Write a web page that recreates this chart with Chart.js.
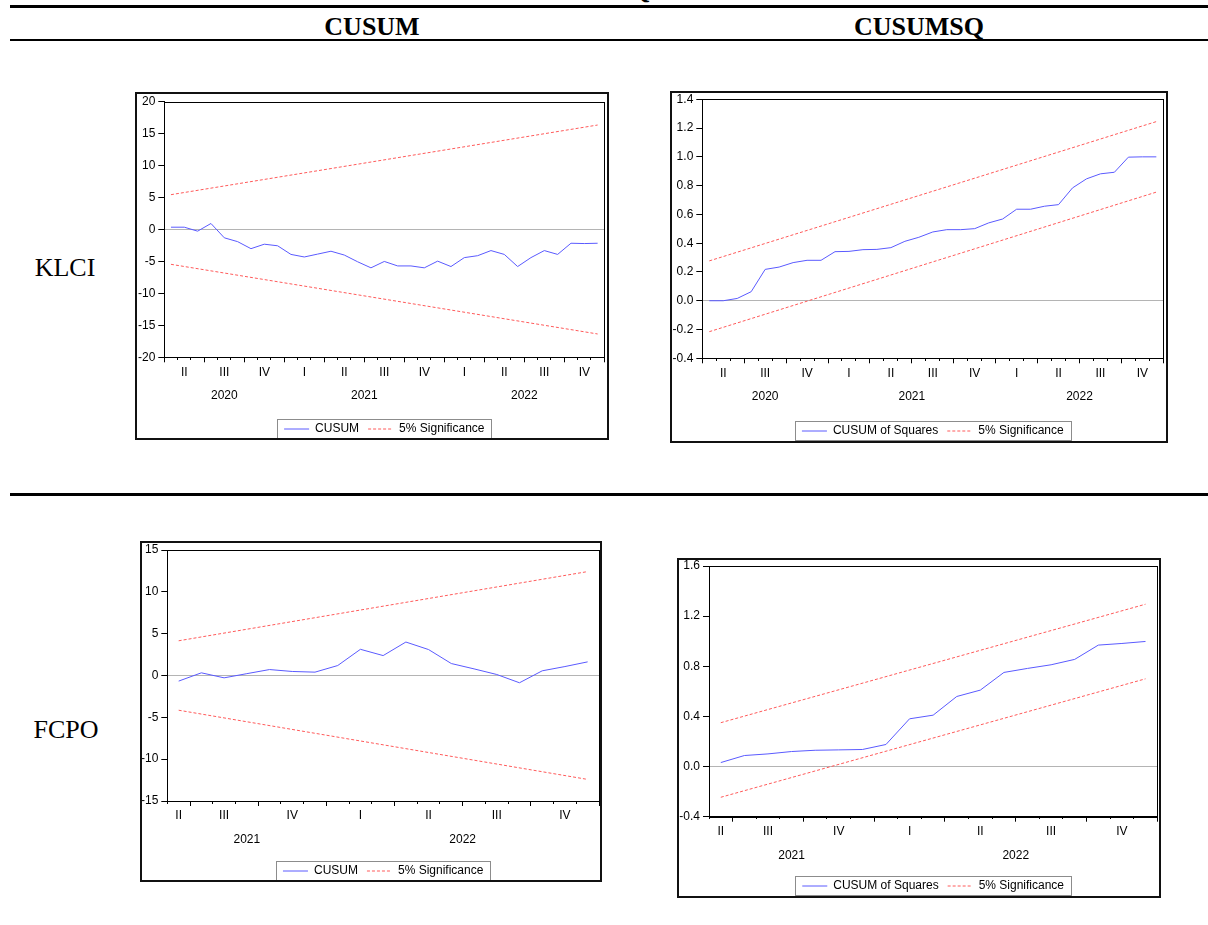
<!DOCTYPE html>
<html>
<head>
<meta charset="utf-8">
<script src="https://cdn.jsdelivr.net/npm/chart.js@4.4.1/dist/chart.umd.min.js"></script>
<style>
  body { margin: 0; background: #fff; }
  #page { position: relative; width: 1208px; height: 925px; overflow: hidden; background: #fff; }
  .rule { position: absolute; left: 10px; right: 0; background: #000; }
  .head { position: absolute; font-family: 'Liberation Serif', 'Times New Roman', serif; font-weight: bold;
          font-size: 26px; transform: translate(-50%, -50%); white-space: nowrap; color: #000; }
  .rowlab { position: absolute; font-family: 'Liberation Serif', 'Times New Roman', serif; font-size: 26px;
            transform: translate(-50%, -50%); white-space: nowrap; color: #000; }
  .cut { position: absolute; font-family: 'Liberation Serif', 'Times New Roman', serif; font-weight: bold;
         font-size: 26px; line-height: 26px; color: #000; }
  .frame { position: absolute; border: 2px solid #111; overflow: hidden; background: #fff; }
  .frame canvas { position: absolute; left: 0; top: 0; }
</style>
</head>
<body>
<div id="page">
  <div class="cut" style="left:630px;top:-23px">Q</div>
  <div class="rule" style="top:5px;height:3px"></div>
  <div class="head" style="left:372px;top:27px">CUSUM</div>
  <div class="head" style="left:919px;top:27px">CUSUMSQ</div>
  <div class="rule" style="top:39px;height:2px"></div>

  <div class="rowlab" style="left:65px;top:268px">KLCI</div>
  <div class="frame" id="f1"><canvas id="c1"></canvas></div>
  <div class="frame" id="f2"><canvas id="c2"></canvas></div>

  <div class="rule" style="top:493px;height:3px"></div>

  <div class="rowlab" style="left:66px;top:730px">FCPO</div>
  <div class="frame" id="f3"><canvas id="c3"></canvas></div>
  <div class="frame" id="f4"><canvas id="c4"></canvas></div>
</div>

<script>
// ---- data -------------------------------------------------------------
const klciMonths = ['2020M04','2020M05','2020M06','2020M07','2020M08','2020M09','2020M10','2020M11','2020M12',
  '2021M01','2021M02','2021M03','2021M04','2021M05','2021M06','2021M07','2021M08','2021M09','2021M10','2021M11','2021M12',
  '2022M01','2022M02','2022M03','2022M04','2022M05','2022M06','2022M07','2022M08','2022M09','2022M10','2022M11','2022M12'];
const fcpoMonths = ['2021M06','2021M07','2021M08','2021M09','2021M10','2021M11','2021M12',
  '2022M01','2022M02','2022M03','2022M04','2022M05','2022M06','2022M07','2022M08','2022M09','2022M10','2022M11','2022M12'];

const klciCusum = [0.36, 0.36, -0.26, 0.94, -1.3, -1.9, -3.0, -2.3, -2.55, -3.9, -4.3, -3.85, -3.4, -4.0, -5.05,
  -6.0, -5.0, -5.7, -5.7, -6.0, -4.95, -5.8, -4.4, -4.1, -3.3, -3.9, -5.8, -4.4, -3.3, -3.9, -2.15, -2.2, -2.15];
const klciCusumUpper = [5.45, 16.35];
const klciCusumLower = [-5.45, -16.35];

const klciCusumsq = [0, 0, 0.016, 0.063, 0.218, 0.234, 0.265, 0.281, 0.281, 0.341, 0.343, 0.355, 0.357, 0.369,
  0.413, 0.441, 0.478, 0.494, 0.494, 0.501, 0.541, 0.568, 0.636, 0.636, 0.657, 0.668, 0.784, 0.847, 0.882,
  0.893, 0.998, 1.0, 1.0];
const klciSqUpper = [0.277, 1.245];
const klciSqLower = [-0.215, 0.755];

const fcpoCusum = [-0.67, 0.32, -0.28, 0.22, 0.71, 0.48, 0.40, 1.19, 3.13, 2.38, 4.0, 3.1, 1.43, 0.79, 0.12,
  -0.87, 0.56, 1.07, 1.63];
const fcpoCusumUpper = [4.15, 12.42];
const fcpoCusumLower = [-4.15, -12.42];

const fcpoCusumsq = [0.032, 0.088, 0.101, 0.12, 0.130, 0.133, 0.136, 0.176, 0.381, 0.41, 0.559, 0.61, 0.751,
  0.783, 0.812, 0.855, 0.969, 0.982, 0.998];
const fcpoSqUpper = [0.35, 1.295];
const fcpoSqLower = [-0.245, 0.70];

const cusumTicksKlci = [-20, -15, -10, -5, 0, 5, 10, 15, 20];
const cusumTicksFcpo = [-15, -10, -5, 0, 5, 10, 15];
const sqTicksKlci = [-0.4, -0.2, 0.0, 0.2, 0.4, 0.6, 0.8, 1.0, 1.2, 1.4];
const sqTicksFcpo = [-0.4, 0.0, 0.4, 0.8, 1.2, 1.6];
const quarterNames = ['I', 'II', 'III', 'IV'];

// ---- drawing ------------------------------------------------------------
const FONT = "'Liberation Sans', Arial, sans-serif";
const BLUE = '#5a5aff';
const RED = '#ff5a5a';
Chart.defaults.font.family = FONT;
Chart.defaults.color = '#000';

// box round the plot area and round the legend, as EViews draws them
const boxPlugin = {
  id: 'eviewsBox',
  afterDraw(chart) {
    const ctx = chart.ctx, a = chart.chartArea;
    ctx.save();
    ctx.strokeStyle = '#000';
    ctx.lineWidth = 1;
    ctx.strokeRect(Math.round(a.left) + 0.5, Math.round(a.top) + 0.5,
      Math.round(a.right) - Math.round(a.left), Math.round(a.bottom) - Math.round(a.top));
    const hb = chart.legend && chart.legend.legendHitBoxes;
    if (hb && hb.length) {
      const last = hb[hb.length - 1];
      const l = hb[0].left - 7, r = last.left + last.width + 7;
      const cy = hb[0].top + hb[0].height / 2;
      ctx.strokeStyle = '#8c8c8c';
      ctx.strokeRect(Math.round(l) + 0.5, Math.round(cy - 10) + 0.5, Math.round(r - l), 19);
    }
    ctx.restore();
  }
};

function parts(s) { return { y: +s.slice(0, 4), m: +s.slice(5) }; }

// month boundaries get tick marks (long at quarter starts), quarter and year names sit in the middle of their span
function buildAxisTicks(months) {
  const n = months.length;
  const byKey = new Map();
  const at = v => {
    const k = v.toFixed(3);
    if (!byKey.has(k)) byKey.set(k, { value: v, lines: ['', ''], mark: 'none' });
    return byKey.get(k);
  };
  for (let i = 0; i <= n; i++) {
    const m = i < n ? parts(months[i]).m : parts(months[n - 1]).m % 12 + 1;
    at(i - 0.5).mark = (m - 1) % 3 === 0 ? 'long' : 'short';
  }
  const spans = keyOf => {
    const out = new Map();
    months.forEach((s, i) => {
      const k = keyOf(parts(s));
      if (!out.has(k)) out.set(k, [i, i]);
      out.get(k)[1] = i;
    });
    return out;
  };
  spans(p => p.y + '-' + Math.ceil(p.m / 3)).forEach((ab, k) => {
    at((ab[0] + ab[1]) / 2).lines[0] = quarterNames[+k.split('-')[1] - 1];
  });
  spans(p => String(p.y)).forEach((ab, k) => {
    at((ab[0] + ab[1]) / 2).lines[1] = k;
  });
  return [...byKey.values()].sort((a, b) => a.value - b.value);
}

function yLabel(v, decimals) {
  if (Math.abs(v) < 1e-9) v = 0;
  return decimals ? v.toFixed(decimals) : String(Math.round(v));
}

function makeChart(p) {
  const frame = document.getElementById(p.frameId);
  frame.style.left = p.frame[0] + 'px';
  frame.style.top = p.frame[1] + 'px';
  frame.style.width = p.frame[2] + 'px';
  frame.style.height = p.frame[3] + 'px';

  const cv = document.getElementById(p.id);
  const W = p.frame[2];
  const H = Math.round(p.legendY + 16);
  cv.width = W; cv.height = H;
  cv.style.width = W + 'px'; cv.style.height = H + 'px';
  const xHeight = H - 31 - p.plot.b;

  const n = p.months.length;
  const series = p.values.map((v, i) => ({ x: i, y: v }));
  const ends = arr => [{ x: 0, y: arr[0] }, { x: n - 1, y: arr[1] }];
  const yt = p.yTicks;
  const lineH = 23.5;

  new Chart(cv, {
    type: 'line',
    data: {
      datasets: [
        { label: p.name, data: series, borderColor: BLUE, borderWidth: 1, pointRadius: 0, tension: 0 },
        { label: '5% Significance', data: ends(p.upper), borderColor: RED, borderWidth: 1, borderDash: [3, 2], pointRadius: 0 },
        { label: '', data: ends(p.lower), borderColor: RED, borderWidth: 1, borderDash: [3, 2], pointRadius: 0 }
      ]
    },
    options: {
      responsive: false,
      animation: false,
      devicePixelRatio: 1,
      layout: { autoPadding: false, padding: { left: 0, top: p.plot.t, right: p.plot.r, bottom: 0 } },
      scales: {
        x: {
          type: 'linear', bounds: 'data', min: -0.5, max: n - 0.5,
          afterBuildTicks: s => { s.ticks = buildAxisTicks(p.months); },
          afterFit: s => { s.height = xHeight; s.paddingLeft = 0; s.paddingRight = 0; },
          ticks: {
            autoSkip: false, maxRotation: 0, minRotation: 0,
            padding: 15 - 5 - lineH / 2,
            font: { family: FONT, size: 12, lineHeight: lineH / 12 },
            color: '#000',
            callback: (v, i, t) => t[i].lines
          },
          grid: {
            drawOnChartArea: false, tickLength: 5,
            tickColor: c => (c.tick && c.tick.mark !== 'none') ? '#000' : 'rgba(0,0,0,0)',
            tickBorderDash: c => (c.tick && c.tick.mark === 'short') ? [2, 20] : []
          },
          border: { color: '#000', width: 1 }
        },
        y: {
          type: 'linear', min: yt[0], max: yt[yt.length - 1],
          afterFit: s => { s.width = p.plot.l; s.paddingTop = 0; s.paddingBottom = 0; },
          ticks: {
            stepSize: yt[1] - yt[0], autoSkip: false, padding: 3,
            font: { family: FONT, size: 12 }, color: '#000',
            callback: v => yLabel(v, p.decimals)
          },
          grid: {
            tickLength: 6, tickColor: '#000',
            color: c => (c.tick && Math.abs(c.tick.value) < 1e-9) ? '#b4b4b4' : 'rgba(0,0,0,0)'
          },
          border: { color: '#000', width: 1 }
        }
      },
      plugins: {
        tooltip: { enabled: false },
        legend: {
          position: 'bottom', fullSize: false, align: 'center',
          labels: {
            usePointStyle: true, pointStyleWidth: 25, padding: 9, color: '#000',
            font: { family: FONT, size: 12 },
            generateLabels: chart => {
              const items = Chart.defaults.plugins.legend.labels.generateLabels(chart);
              items.forEach(it => {
                const ds = chart.data.datasets[it.datasetIndex];
                it.pointStyle = 'line';
                it.lineDash = ds.borderDash || [];
                it.strokeStyle = ds.borderColor;
                it.lineWidth = 1;
              });
              return items;
            },
            filter: it => it.text !== ''
          }
        }
      }
    },
    plugins: [boxPlugin]
  });
}

const panels = [
  { id: 'c1', frameId: 'f1', frame: [135, 92, 470, 344], plot: { l: 27.3, r: 2.7, t: 7.7, b: 263.3 }, legendY: 334.5,
    name: 'CUSUM', months: klciMonths, values: klciCusum, upper: klciCusumUpper, lower: klciCusumLower,
    yTicks: cusumTicksKlci, decimals: 0 },
  { id: 'c2', frameId: 'f2', frame: [670, 91, 494, 348], plot: { l: 30.3, r: 2.7, t: 6.3, b: 265.3 }, legendY: 337.7,
    name: 'CUSUM of Squares', months: klciMonths, values: klciCusumsq, upper: klciSqUpper, lower: klciSqLower,
    yTicks: sqTicksKlci, decimals: 1 },
  { id: 'c3', frameId: 'f3', frame: [140, 541, 458, 337], plot: { l: 25.3, r: 1.0, t: 7, b: 258 }, legendY: 327.7,
    name: 'CUSUM', months: fcpoMonths, values: fcpoCusum, upper: fcpoCusumUpper, lower: fcpoCusumLower,
    yTicks: cusumTicksFcpo, decimals: 0 },
  { id: 'c4', frameId: 'f4', frame: [677, 558, 480, 336], plot: { l: 30, r: 1.7, t: 6, b: 256.7 }, legendY: 326,
    name: 'CUSUM of Squares', months: fcpoMonths, values: fcpoCusumsq, upper: fcpoSqUpper, lower: fcpoSqLower,
    yTicks: sqTicksFcpo, decimals: 1 }
];

window.onload = () => panels.forEach(makeChart);
</script>
</body>
</html>
